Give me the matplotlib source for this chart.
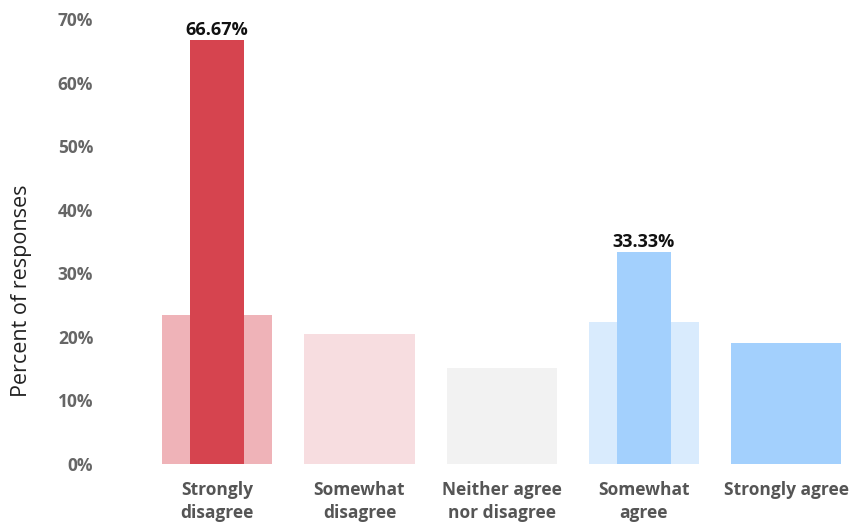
import numpy as np
import matplotlib.pyplot as plt

plt.rcParams['font.family'] = ['Open Sans', 'DejaVu Sans']

categories = ['Strongly\ndisagree', 'Somewhat\ndisagree', 'Neither agree\nnor disagree',
              'Somewhat\nagree', 'Strongly agree']
# overall distribution (wide, light bars) and this group's answers (narrow bars)
overall_pct = [23.4, 20.4, 15.1, 22.4, 19.0]
group_pct = [66.67, 0, 0, 33.33, 0]

wide_colors = ['#efb3b8', '#f7dde0', '#f2f2f2', '#d9ebfd', '#a3d0fd']
narrow_colors = ['#d6444f', '#d6444f', '#d6444f', '#a3d0fd', '#a3d0fd']

fig = plt.figure(figsize=(8.55, 5.25), dpi=100)
ax = fig.add_axes([0.1626, 0.1162, 0.8316, 0.8476])

x = np.arange(len(categories))
ax.bar(x, overall_pct, width=0.775, color=wide_colors, zorder=1)
ax.bar(x, group_pct, width=0.38, color=narrow_colors, zorder=2)

for xi, v in zip(x, group_pct):
    if v > 0:
        ax.text(xi, v + 0.2, f'{v:.2f}%', ha='center', va='bottom',
                fontsize=13, fontweight='bold', color='#111111')

ax.set_xlim(-0.55, 4.45)
ax.set_ylim(0, 70)
ax.set_yticks(np.arange(0, 71, 10))
ax.set_yticklabels([f'{t}%' for t in range(0, 71, 10)])
ax.set_xticks(x)
ax.set_xticklabels(categories, linespacing=1.35)

for s in ax.spines.values():
    s.set_visible(False)
ax.tick_params(axis='y', length=0, pad=33, labelsize=12.5, labelcolor='#666666')
ax.tick_params(axis='x', length=0, pad=12, labelsize=12.5, labelcolor='#555555')
for lbl in ax.get_xticklabels() + ax.get_yticklabels():
    lbl.set_fontweight('bold')
ax.set_ylabel('Percent of responses', fontsize=15.5, color='#222222')
ax.yaxis.set_label_coords(-0.15, 0.39)

fig.savefig('out.png', dpi=100)
